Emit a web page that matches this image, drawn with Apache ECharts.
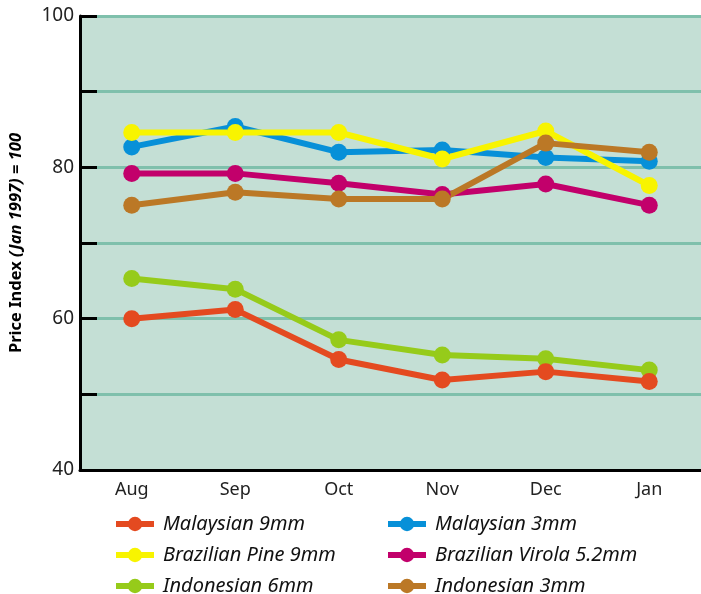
<!DOCTYPE html>
<html>
<head>
<meta charset="utf-8">
<script src="https://cdn.jsdelivr.net/npm/echarts@6/dist/echarts.min.js"></script>
<style>
html,body{margin:0;padding:0;background:#fff;}
#chart{width:701px;height:594px;}
</style>
</head>
<body>
<div id="chart"></div>
<script>
const months = ['Aug','Sep','Oct','Nov','Dec','Jan'];
const yTickLabels = {100:'100', 80:'80', 60:'60', 40:'40'};
const malaysian9 = [60.0, 61.2, 54.6, 51.9, 53.0, 51.7];
const malaysian3 = [82.7, 85.4, 82.0, 82.3, 81.3, 80.8];
const brazilianPine9 = [84.6, 84.6, 84.6, 81.1, 84.8, 77.6];
const brazilianVirola = [79.2, 79.2, 77.9, 76.4, 77.8, 75.0];
const indonesian6 = [65.3, 63.9, 57.2, 55.2, 54.7, 53.2];
const indonesian3 = [75.0, 76.7, 75.8, 75.8, 83.2, 82.0];

const seriesDefs = [
  {name:'Malaysian 9mm', data:malaysian9, color:'#e44a20'},
  {name:'Malaysian 3mm', data:malaysian3, color:'#0790d8'},
  {name:'Brazilian Pine 9mm', data:brazilianPine9, color:'#f8f400'},
  {name:'Brazilian Virola 5.2mm', data:brazilianVirola, color:'#c2006b'},
  {name:'Indonesian 6mm', data:indonesian6, color:'#96cb1a'},
  {name:'Indonesian 3mm', data:indonesian3, color:'#bb7826'}
];
const drawOrder = ['Malaysian 3mm','Brazilian Pine 9mm','Indonesian 6mm','Malaysian 9mm','Brazilian Virola 5.2mm','Indonesian 3mm'];

const chart = echarts.init(document.getElementById('chart'));
const font = '"Noto Sans", sans-serif';
const legendCommon = {
  orient:'vertical', itemWidth:38, itemHeight:18, itemGap:11, height:90,
  lineStyle:{width:6},
  textStyle:{fontFamily:font, fontStyle:'italic', fontSize:20, color:'#111', padding:[0,0,0,4]},
  padding:0
};
chart.setOption({
  animation:false,
  backgroundColor:'#ffffff',
  grid:{left:79, top:16, width:630, height:454, containLabel:false, show:true, backgroundColor:'#c4dfd5', borderWidth:0},
  xAxis:{
    type:'category', data:months, boundaryGap:true,
    axisLine:{lineStyle:{color:'#000', width:3}},
    axisTick:{alignWithLabel:true, inside:true, length:10, lineStyle:{color:'#000', width:3}},
    axisLabel:{fontFamily:font, fontSize:18, color:'#222', margin:11}
  },
  yAxis:{
    type:'value', min:40, max:100, interval:10,
    name:'{a|Price Index }{b|(Jan 1997) = 100}',
    nameLocation:'middle', nameGap:55, nameRotate:90,
    nameTextStyle:{rich:{
      a:{fontFamily:font, fontWeight:'bold', fontSize:16.5, color:'#000'},
      b:{fontFamily:font, fontWeight:'bold', fontStyle:'italic', fontSize:16.5, color:'#000'}
    }},
    axisLine:{show:true, lineStyle:{color:'#000', width:3}},
    axisTick:{show:true, inside:true, length:17, lineStyle:{color:'#000', width:3}},
    axisLabel:{fontFamily:font, fontSize:19, color:'#222', margin:6,
      formatter:v => yTickLabels[v] || ''},
    splitLine:{show:true, lineStyle:{color:'#7fc0ac', width:3}}
  },
  legend:[
    Object.assign({left:113, top:514, data:['Malaysian 9mm','Brazilian Pine 9mm','Indonesian 6mm']}, legendCommon),
    Object.assign({left:385, top:514, data:['Malaysian 3mm','Brazilian Virola 5.2mm','Indonesian 3mm']}, legendCommon)
  ],
  series: drawOrder.map(n => {
    const d = seriesDefs.find(s => s.name === n);
    return {
      name:d.name, type:'line', data:d.data,
      symbol:'circle', symbolSize:17, showSymbol:true,
      lineStyle:{color:d.color, width:6},
      itemStyle:{color:d.color},
      emphasis:{disabled:true}
    };
  })
});
</script>
</body>
</html>
